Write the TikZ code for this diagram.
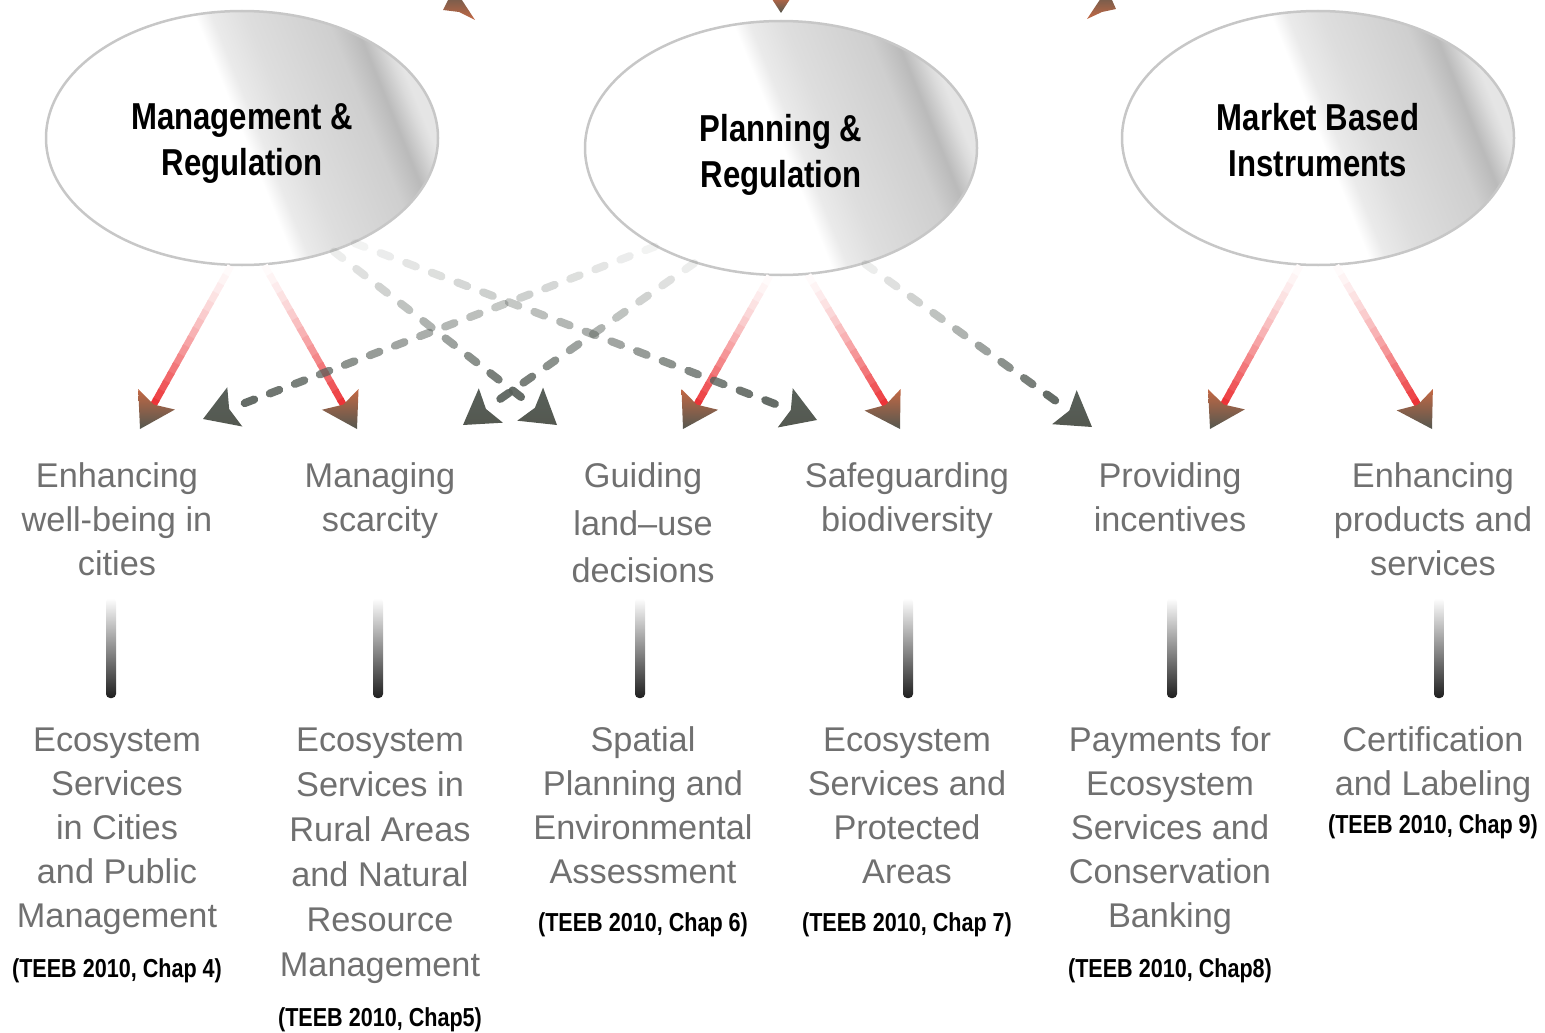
\documentclass[tikz,border=0pt]{standalone}
\usepackage{fontspec}
\setmainfont{Liberation Sans}
\newfontfamily\narrowfont[FakeStretch=0.83]{Liberation Sans}
\usetikzlibrary{calc,shapes.geometric}

\pgfdeclarehorizontalshading{metal}{100bp}{color(0bp)=(white); color(50.3bp)=(white); color(52.5bp)=(black!8); color(57bp)=(black!13); color(67.5bp)=(black!19); color(71bp)=(black!27); color(73.8bp)=(black!14); color(75bp)=(black!10); color(100bp)=(black!10)}

\definecolor{arrowred}{RGB}{236,52,56}
\definecolor{headbrown}{RGB}{196,104,68}
\definecolor{headgrey}{RGB}{84,88,80}
\definecolor{dashgrey}{RGB}{88,96,90}
\definecolor{labelgrey}{RGB}{112,112,112}

\tikzset{
	instrument/.style={ellipse, minimum width=392pt, minimum height=254pt, draw=black!22, line width=2.5pt, shade, shading=metal, shading angle=22},
	title/.style={align=center, anchor=north, inner sep=0pt, font=\narrowfont\bfseries\fontsize{37.5}{46}\selectfont},
	goal/.style={align=center, anchor=north, inner sep=0pt, text=labelgrey, font=\fontsize{34.3}{44}\selectfont},
	teeb/.style={inner sep=0pt, font=\narrowfont\bfseries\fontsize{26}{30}\selectfont},
	redline/.style={line width=7pt},
	dashline/.style={line width=8pt, line cap=round, color=dashgrey}
}

% head: #1 tip, #2 point it comes from, #3 back colour, #4 tip colour
\newcommand{\headtip}[4]{%
	\shade[top color=#3, bottom color=#4] (#1) -- ($($(#1)!34pt!(#2)$)!21pt!90:(#2)$) -- ($(#1)!28pt!(#2)$) -- ($($(#1)!34pt!(#2)$)!21pt!-90:(#2)$) -- cycle;
}
% red arrow fading in from its start
\newcommand{\fadearrow}[2]{%
	\foreach \i in {1,...,16}{
		\pgfmathsetmacro{\fapct}{100*(\i/16)^1.4}
		\draw[redline, color=arrowred!\fapct!white] ($(#1)!{(\i-1)/16}!($(#2)!24pt!(#1)$)$) -- ($(#1)!{(\i+0.2)/16}!($(#2)!24pt!(#1)$)$);
	}
	\headtip{#2}{#1}{headbrown}{headgrey}
}
% dashed arrow fading in from its start, #3 dashes
\newcommand{\fadedash}[3]{%
	\foreach \i in {1,...,#3}{
		\pgfmathsetmacro{\fdop}{0.05+0.87*(\i/#3)^1.2}
		\draw[dashline, opacity=\fdop] ($(#1)!{(\i-1)/#3}!($(#2)!28pt!(#1)$)$) -- ($(#1)!{(\i-0.62)/#3}!($(#2)!28pt!(#1)$)$);
	}
	\headtip{#2}{#1}{dashgrey}{headgrey}
}

\begin{document}
\begin{tikzpicture}[x=1pt, y=-1pt]
	\useasboundingbox (0,0) rectangle (1545,1033);
	
	% tips of arrows coming from above
	\shade[top color=headgrey, bottom color=headbrown] (454,-12) -- (443,10) -- (459,12) -- (475,20) -- cycle;
	\shade[top color=headbrown, bottom color=headgrey] (781,13) -- (770,-4) -- (792,-4) -- cycle;
	\shade[top color=headgrey, bottom color=headbrown] (1107,-11) -- (1087,19) -- (1102,12) -- (1116,9) -- cycle;
	
	\node[instrument] (mgmt) at (242,138) {};
	\node[instrument] (plan) at (781,148) {};
	\node[instrument] (market) at (1318,138) {};
	\node[title] (mgmt-t) at (242,103.5) {Management \&\\Regulation};
	\node[title] (plan-t) at (781,114.5) {Planning \&\\Regulation};
	\node[title] (market-t) at (1318,103.5) {Market Based\\Instruments};
	
	\coordinate (well-a) at (140,429);
	\coordinate (well-b) at (203,419);
	\coordinate (scar-a) at (357,429);
	\coordinate (scar-b) at (463,425);
	\coordinate (land-b) at (557,425);
	\coordinate (land-a) at (683,429);
	\coordinate (bio-b) at (817,420);
	\coordinate (bio-a) at (900,429);
	\coordinate (inc-b) at (1092,427);
	\coordinate (inc-a) at (1210,429);
	\coordinate (prod-a) at (1432,429);
	
	\fadearrow{mgmt.-95}{well-a}
	\fadearrow{mgmt.-80}{scar-a}
	\fadearrow{plan.-95}{land-a}
	\fadearrow{plan.-78}{bio-a}
	\fadearrow{market.-98}{inc-a}
	\fadearrow{market.-82}{prod-a}
	
	\fadedash{plan.-142}{well-b}{17}
	\fadedash{plan.-127}{scar-b}{9}
	\fadedash{mgmt.-51}{land-b}{9}
	\fadedash{mgmt.-43}{bio-b}{17}
	\fadedash{plan.-54}{inc-b}{9}
	
	\node[goal] (well) at (117,462.5) {Enhancing\\well-being in\\cities};
	\node[goal] (scarcity) at (380,462.5) {Managing\\scarcity};
	\node[goal, font=\fontsize{34.3}{47.5}\selectfont] (landuse) at (643,462.5) {Guiding\\land–use\\decisions};
	\node[goal] (biodiv) at (907,462.5) {Safeguarding\\biodiversity};
	\node[goal] (incent) at (1170,462.5) {Providing\\incentives};
	\node[goal] (products) at (1433,462.5) {Enhancing\\products and\\services};
	
	\foreach \x in {111,378,640,908,1172,1439}
		\shade[top color=white, bottom color=black!88, rounded corners=4pt] (\x-5,598) rectangle (\x+5,698);
	
	\node[goal] (es1) at (117,728) {Ecosystem\\Services\\in Cities\\and Public\\Management};
	\node[goal, font=\fontsize{34.3}{45}\selectfont] (es2) at (380,728) {Ecosystem\\Services in\\Rural Areas\\and Natural\\Resource\\Management};
	\node[goal] (es3) at (643,726) {Spatial\\Planning and\\Environmental\\Assessment};
	\node[goal] (es4) at (907,728) {Ecosystem\\Services and\\Protected\\Areas};
	\node[goal] (es5) at (1170,726) {Payments for\\Ecosystem\\Services and\\Conservation\\Banking};
	\node[goal] (es6) at (1433,726) {Certification\\and Labeling};
	
	\node[teeb] (ref1) at (117,971) {(TEEB 2010, Chap 4)};
	\node[teeb] (ref2) at (380,1019.5) {(TEEB 2010, Chap5)};
	\node[teeb] (ref3) at (643,924.5) {(TEEB 2010, Chap 6)};
	\node[teeb] (ref4) at (907,924.5) {(TEEB 2010, Chap 7)};
	\node[teeb] (ref5) at (1170,970.5) {(TEEB 2010, Chap8)};
	\node[teeb] (ref6) at (1433,826.5) {(TEEB 2010, Chap 9)};
\end{tikzpicture}
\end{document}
